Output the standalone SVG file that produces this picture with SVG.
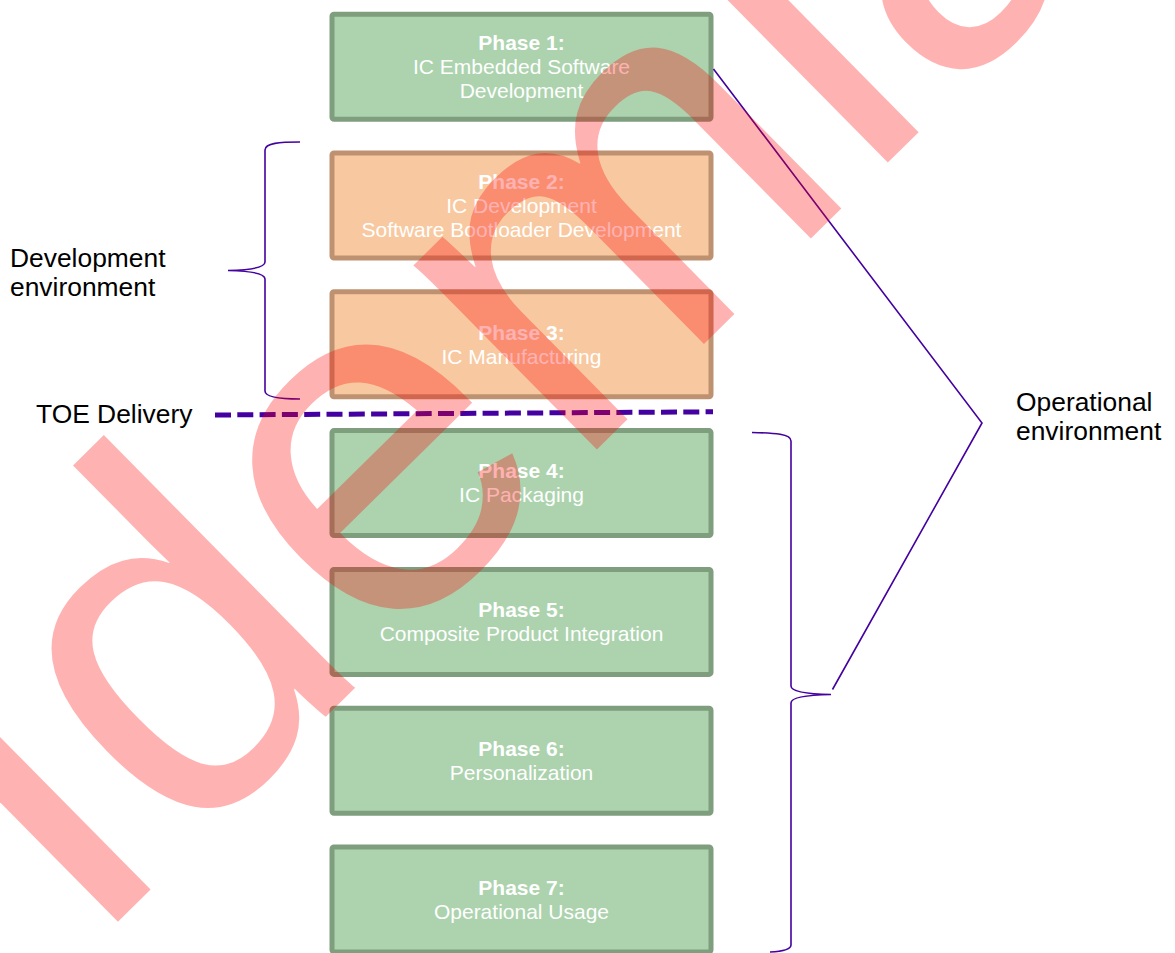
<svg xmlns="http://www.w3.org/2000/svg" width="1175" height="953" viewBox="0 0 1175 953">
<style>
  .box rect { stroke-width: 5; }
  .green rect { fill: #acd3ae; stroke: #7e9e7e; }
  .orange rect { fill: #f8c9a0; stroke: #be9270; }
  .box text { font-family: "Liberation Sans", Arial, sans-serif; font-size: 21px; fill: #ffffff; text-anchor: middle; }
  .box .t { font-weight: bold; }
  .lbl { font-family: "Liberation Sans", Arial, sans-serif; font-size: 26.4px; fill: #000000; }
  .conn path { fill: none; stroke: #4400a0; stroke-width: 1.6; }
  .wm { font-family: "Liberation Sans", Arial, sans-serif; font-size: 492px; fill: #ff0000; fill-opacity: 0.3; }
</style>
<rect width="1175" height="953" fill="#ffffff"/>

<g id="phase1" class="box green">
  <rect x="332" y="14.2" width="379" height="105" rx="2"/>
  <text x="521.5" y="50" class="t">Phase 1:</text>
  <text x="521.5" y="74">IC Embedded Software</text>
  <text x="521.5" y="98">Development</text>
</g>
<g id="phase2" class="box orange">
  <rect x="332" y="153" width="379" height="105" rx="2"/>
  <text x="521.5" y="189" class="t">Phase 2:</text>
  <text x="521.5" y="213">IC Development</text>
  <text x="521.5" y="237">Software Bootloader Development</text>
</g>
<g id="phase3" class="box orange">
  <rect x="332" y="291.8" width="379" height="105" rx="2"/>
  <text x="521.5" y="339.5" class="t">Phase 3:</text>
  <text x="521.5" y="363.5">IC Manufacturing</text>
</g>
<g id="phase4" class="box green">
  <rect x="332" y="430.6" width="379" height="105" rx="2"/>
  <text x="521.5" y="478.3" class="t">Phase 4:</text>
  <text x="521.5" y="502.3">IC Packaging</text>
</g>
<g id="phase5" class="box green">
  <rect x="332" y="569.4" width="379" height="105" rx="2"/>
  <text x="521.5" y="617.2" class="t">Phase 5:</text>
  <text x="521.5" y="641.2">Composite Product Integration</text>
</g>
<g id="phase6" class="box green">
  <rect x="332" y="708.2" width="379" height="105" rx="2"/>
  <text x="521.5" y="756" class="t">Phase 6:</text>
  <text x="521.5" y="780">Personalization</text>
</g>
<g id="phase7" class="box green">
  <rect x="332" y="847" width="379" height="105" rx="2"/>
  <text x="521.5" y="894.8" class="t">Phase 7:</text>
  <text x="521.5" y="918.8">Operational Usage</text>
</g>

<g id="labels">
  <text class="lbl" x="10" y="266.5">Development</text>
  <text class="lbl" x="10" y="295.5">environment</text>
  <text class="lbl" x="36" y="423">TOE Delivery</text>
  <text class="lbl" x="1016" y="411">Operational</text>
  <text class="lbl" x="1016" y="440">environment</text>
</g>

<g id="connectors" class="conn">
  <path d="M215,415 L713,411.8" style="stroke-width:5;stroke-dasharray:16 6.3"/>
  <path d="M300,142 C280,142 265,143 265,150 L265,262 C265,268 250,270 228,270.5 C250,271 265,273 265,279 L265,391 C265,397 280,399 300,399"/>
  <path d="M752,432.5 C775,433 791,434 791,441 L791,686 C791,691 805,694 831,694.5 C805,695 791,698 791,703 L791,945 C791,950 780,951.5 770,952"/>
  <path d="M713.5,69 L982,423 L832.5,689.5"/>
</g>

<g id="watermark">
  <text class="wm" transform="translate(85.6,953.7) rotate(-44.6)">Idemia</text>
</g>
</svg>
